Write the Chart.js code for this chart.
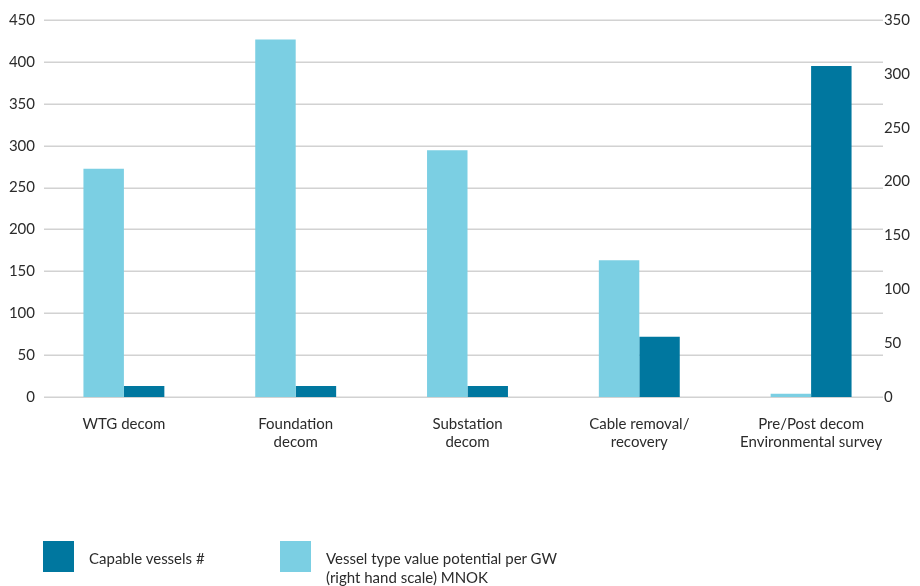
<!DOCTYPE html>
<html>
<head>
<meta charset="utf-8">
<script src="https://cdn.jsdelivr.net/npm/chart.js@4.4.1/dist/chart.umd.min.js"></script>
<style>
  html, body { margin: 0; padding: 0; background: #ffffff; }
  #wrap { position: relative; width: 920px; height: 586px; font-family: Lato, "Open Sans", sans-serif; color: #2b2b2b; }
  #c { position: absolute; left: 0; top: 0; }
  .sw { position: absolute; width: 31px; height: 31px; }
  .lt { position: absolute; font-size: 15px; line-height: 19px; white-space: nowrap; }
</style>
</head>
<body>
<div id="wrap">
  <canvas id="c" width="920" height="586"></canvas>
  <div class="sw" style="left:43px;top:541px;background:#00779f"></div>
  <div class="lt" style="left:89px;top:549px">Capable vessels #</div>
  <div class="sw" style="left:280px;top:541px;background:#7bcfe3"></div>
  <div class="lt" style="left:326px;top:549px">Vessel type value potential per GW<br>(right hand scale) MNOK</div>
</div>
<script>
const categories = [
  ["WTG decom"],
  ["Foundation", "decom"],
  ["Substation", "decom"],
  ["Cable removal/", "recovery"],
  ["Pre/Post decom", "Environmental survey"]
];
const capableVessels = [13, 13, 13, 72, 395];
const valuePotential = [212, 332, 229, 127, 3];
const leftTicks = { min: 0, max: 450, step: 50 };
const rightTicks = { min: 0, max: 350, step: 50 };

const DARK = '#00779f';
const LIGHT = '#7bcfe3';
const TXT = '#2b2b2b';
const FONT = 'Lato, "Open Sans", sans-serif';

const gridPlugin = {
  id: 'customGrid',
  beforeDatasetsDraw(chart) {
    const s = chart.scales.y;
    const a = chart.chartArea;
    const ctx = chart.ctx;
    ctx.save();
    ctx.strokeStyle = '#d2d2d2';
    ctx.lineWidth = 1.6;
    s.ticks.forEach(t => {
      const y = Math.round(s.getPixelForValue(t.value)) + 0.2;
      ctx.beginPath();
      ctx.moveTo(a.left + 6, y);
      ctx.lineTo(a.right - 14, y);
      ctx.stroke();
    });
    ctx.restore();
  }
};

new Chart(document.getElementById('c'), {
  type: 'bar',
  data: {
    labels: categories,
    datasets: [
      {
        label: 'Vessel type value potential per GW (right hand scale) MNOK',
        data: valuePotential,
        backgroundColor: LIGHT,
        yAxisID: 'y1',
        barPercentage: 1,
        categoryPercentage: 0.471
      },
      {
        label: 'Capable vessels #',
        data: capableVessels,
        backgroundColor: DARK,
        yAxisID: 'y',
        barPercentage: 1,
        categoryPercentage: 0.471
      }
    ]
  },
  options: {
    responsive: false,
    animation: false,
    layout: { padding: { top: 20, bottom: 0, left: 0, right: 0 } },
    plugins: { legend: { display: false }, tooltip: { enabled: false } },
    scales: {
      x: {
        grid: { display: false, drawTicks: false },
        border: { display: false },
        ticks: {
          color: TXT,
          font: { family: FONT, size: 15, lineHeight: '18px' },
          padding: 18,
          maxRotation: 0,
          autoSkip: false
        },
        afterFit: s => { s.height = 189; s.paddingLeft = 0; s.paddingRight = 0; }
      },
      y: {
        position: 'left',
        min: leftTicks.min, max: leftTicks.max,
        grid: { display: false, drawTicks: false },
        border: { display: false },
        ticks: {
          stepSize: leftTicks.step,
          color: TXT,
          font: { family: FONT, size: 15 },
          padding: 3
        },
        afterFit: s => { s.width = 38; s.paddingTop = 0; s.paddingBottom = 0; }
      },
      y1: {
        position: 'right',
        min: rightTicks.min, max: rightTicks.max,
        grid: { display: false, drawTicks: false },
        border: { display: false },
        ticks: {
          stepSize: rightTicks.step,
          color: TXT,
          font: { family: FONT, size: 15 },
          mirror: true,
          crossAlign: 'far',
          padding: 13
        },
        afterFit: s => { s.width = 23; s.paddingTop = 0; s.paddingBottom = 0; }
      }
    }
  },
  plugins: [gridPlugin]
});
</script>
</body>
</html>
